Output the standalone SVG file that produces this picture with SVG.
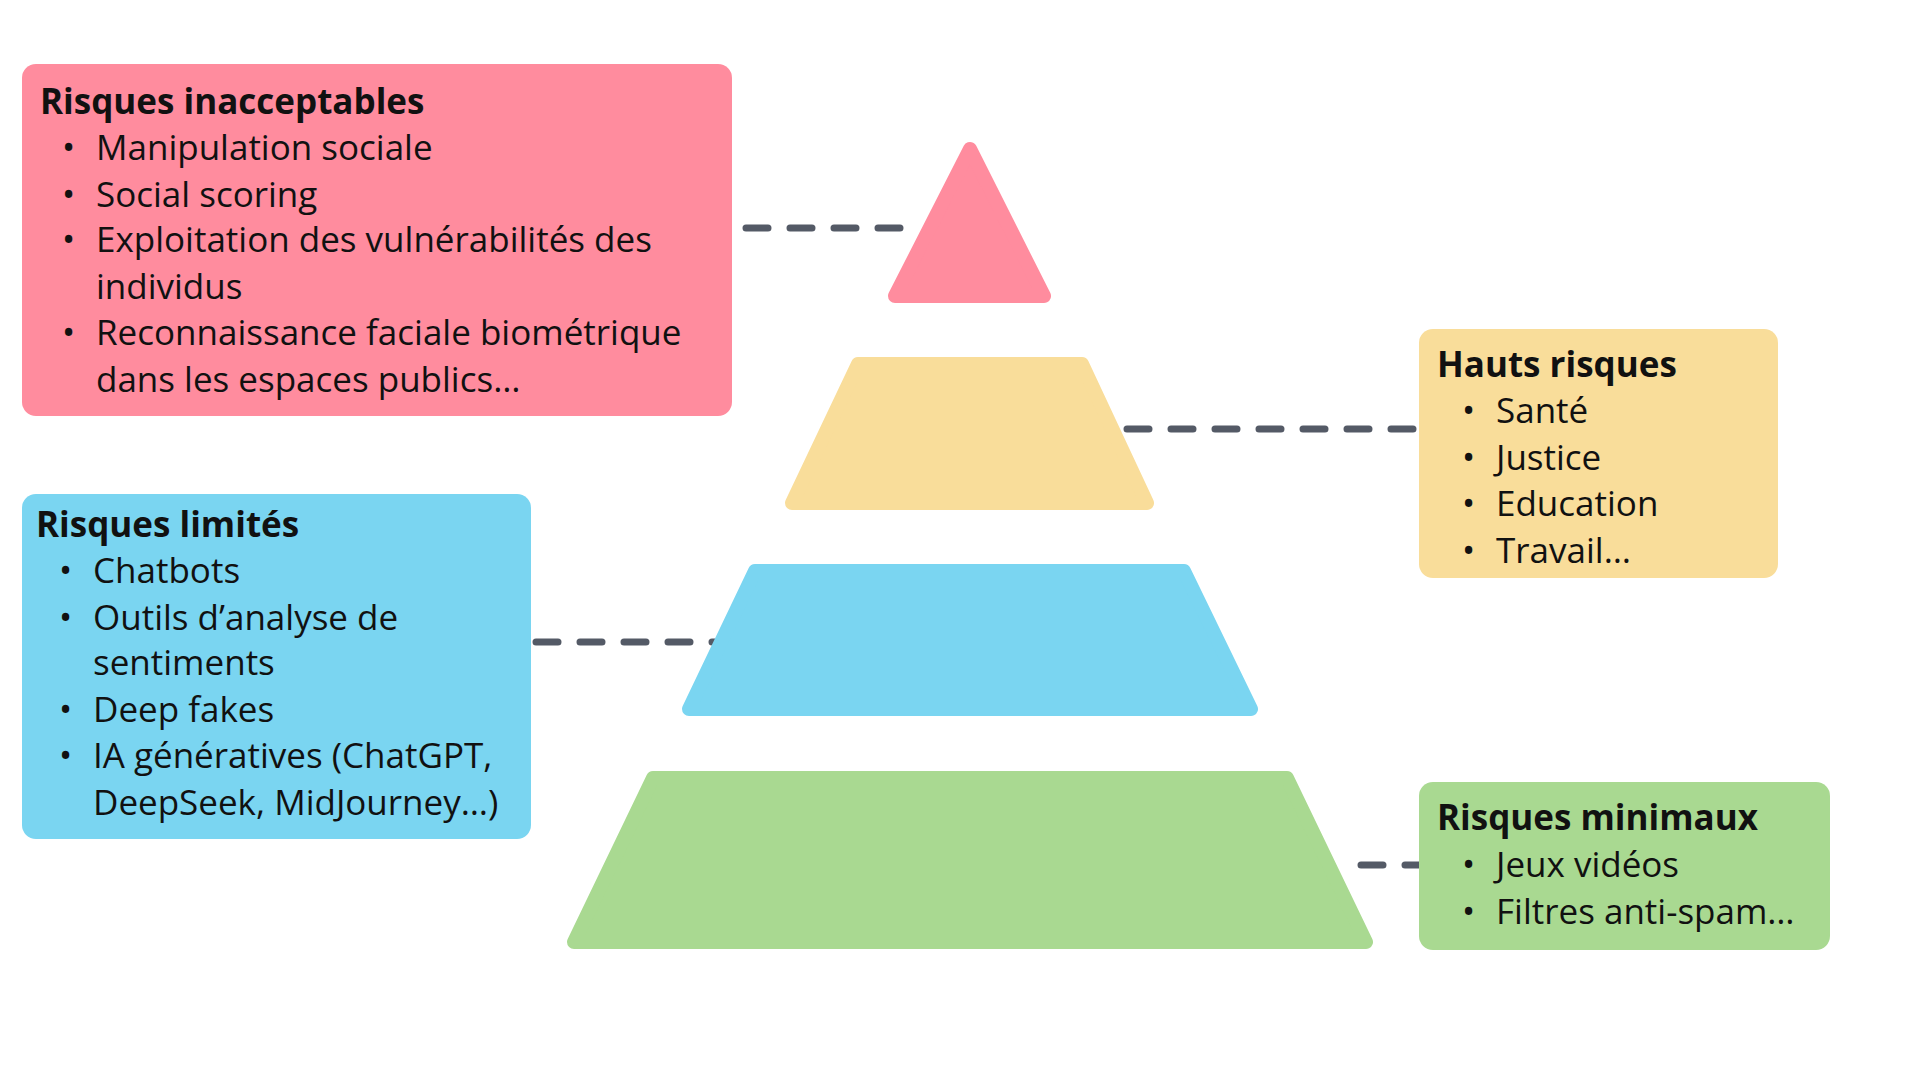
<svg xmlns="http://www.w3.org/2000/svg" width="1920" height="1080" viewBox="0 0 1920 1080">
<style>
text{font-family:"Open Sans","Liberation Sans",sans-serif;font-size:35px;fill:#111}
.t{font-weight:bold}
.d{stroke:#545A66;stroke-width:7;stroke-dasharray:22 22;stroke-linecap:round;fill:none}
.s{stroke-linejoin:round;stroke-width:14}
</style>
<rect width="1920" height="1080" fill="#fff"/>
<g id="connectors">
<line class="d" x1="746" y1="228" x2="909" y2="228"/>
<line class="d" x1="1127" y1="429" x2="1419" y2="429"/>
<line class="d" x1="536" y1="642" x2="715" y2="642"/>
<line class="d" x1="1361" y1="865" x2="1419" y2="865"/>
</g>
<g id="tier1"><polygon class="s" points="970,149 1044,296 895,296" fill="#FF8C9E" stroke="#FF8C9E"/></g>
<g id="tier2"><polygon class="s" points="858,364 1082,364 1147,503 792,503" fill="#F9DD9A" stroke="#F9DD9A"/></g>
<g id="tier3"><polygon class="s" points="755,571 1184,571 1251,709 689,709" fill="#7AD5F1" stroke="#7AD5F1"/></g>
<g id="tier4"><polygon class="s" points="653,778 1287,778 1366,942 574,942" fill="#A9D991" stroke="#A9D991"/></g>
<g id="box-red">
<rect x="22" y="64" width="710" height="352" rx="14" fill="#FF8C9E"/>
<text class="t" x="40" y="114">Risques inacceptables</text>
<text x="62" y="160">•</text><text x="96" y="160">Manipulation sociale</text>
<text x="62" y="207">•</text><text x="96" y="207">Social scoring</text>
<text x="62" y="252">•</text><text x="96" y="252">Exploitation des vulnérabilités des</text>
<text x="96" y="299">individus</text>
<text x="62" y="345">•</text><text x="96" y="345">Reconnaissance faciale biométrique</text>
<text x="96" y="392">dans les espaces publics…</text>
</g>
<g id="box-yellow">
<rect x="1419" y="329" width="359" height="249" rx="14" fill="#F9DD9A"/>
<text class="t" x="1437" y="377">Hauts risques</text>
<text x="1462" y="423">•</text><text x="1496" y="423">Santé</text>
<text x="1462" y="470">•</text><text x="1496" y="470">Justice</text>
<text x="1462" y="516">•</text><text x="1496" y="516">Education</text>
<text x="1462" y="563">•</text><text x="1496" y="563">Travail…</text>
</g>
<g id="box-blue">
<rect x="22" y="494" width="509" height="345" rx="14" fill="#7AD5F1"/>
<text class="t" x="36" y="537">Risques limités</text>
<text x="59" y="583">•</text><text x="93" y="583">Chatbots</text>
<text x="59" y="630">•</text><text x="93" y="630">Outils d’analyse de</text>
<text x="93" y="675">sentiments</text>
<text x="59" y="722">•</text><text x="93" y="722">Deep fakes</text>
<text x="59" y="768">•</text><text x="93" y="768">IA génératives (ChatGPT,</text>
<text x="93" y="815">DeepSeek, MidJourney…)</text>
</g>
<g id="box-green">
<rect x="1419" y="782" width="411" height="168" rx="14" fill="#A9D991"/>
<text class="t" x="1437" y="830">Risques minimaux</text>
<text x="1462" y="877">•</text><text x="1496" y="877">Jeux vidéos</text>
<text x="1462" y="924">•</text><text x="1496" y="924">Filtres anti-spam…</text>
</g>
</svg>
